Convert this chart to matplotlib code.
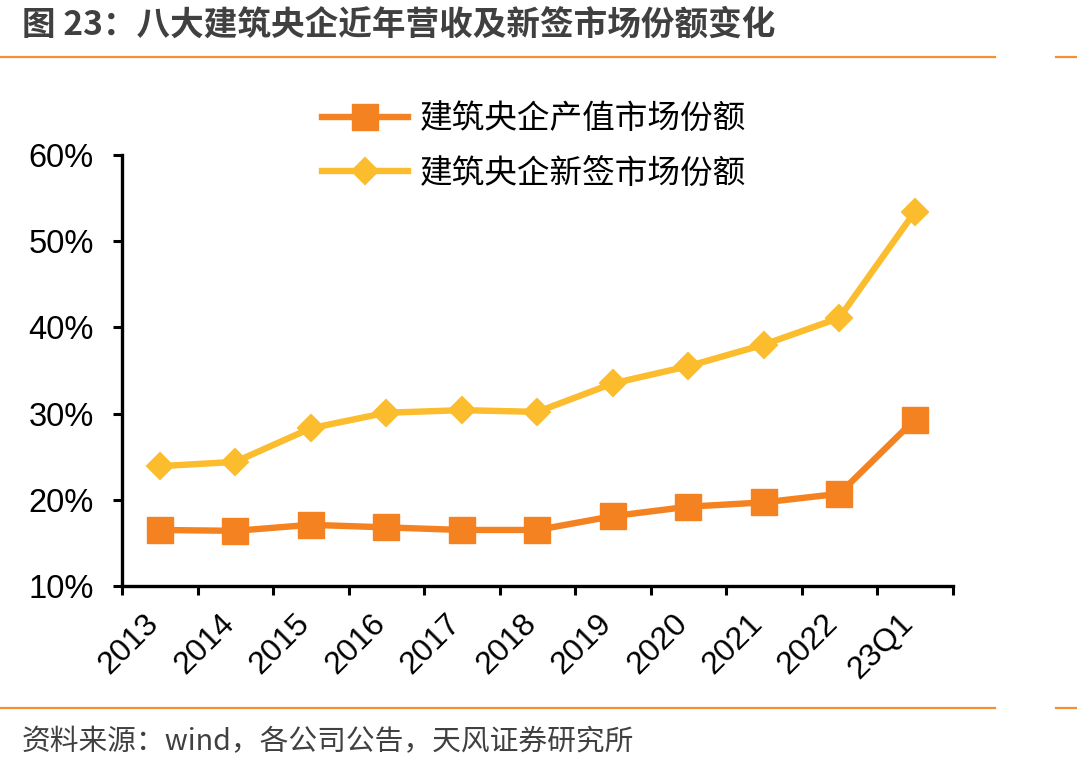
import matplotlib
matplotlib.use("Agg")
import matplotlib.pyplot as plt
from matplotlib.lines import Line2D
import matplotlib.transforms as mtransforms

categories = ["2013", "2014", "2015", "2016", "2017", "2018", "2019", "2020", "2021", "2022", "23Q1"]
output_share = [16.5, 16.4, 17.1, 16.8, 16.5, 16.5, 18.1, 19.2, 19.7, 20.7, 29.3]
newsign_share = [23.9, 24.4, 28.3, 30.1, 30.4, 30.2, 33.5, 35.5, 38.0, 41.1, 53.4]
series_names = ["建筑央企产值市场份额", "建筑央企新签市场份额"]
yticks = [10, 20, 30, 40, 50, 60]

ORANGE = "#F58220"
YELLOW = "#FBBC2D"
RULE = "#F39034"
TXT = "#404040"
CJK = ["Noto Sans CJK SC", "DejaVu Sans"]
NUM = ["Liberation Sans", "DejaVu Sans"]

fig = plt.figure(figsize=(10.77, 7.71), dpi=100)
ax = fig.add_axes([122 / 1077, 1 - 586 / 771, (952.5 - 122) / 1077, (586 - 155) / 771])

x = list(range(len(categories)))
ax.plot(x, output_share, color=ORANGE, lw=4.6, marker="s", ms=18.5,
        mfc=ORANGE, mec=ORANGE, mew=1, solid_joinstyle="round", zorder=3)
ax.plot(x, newsign_share, color=YELLOW, lw=4.6, marker="D", ms=13.5,
        mfc=YELLOW, mec=YELLOW, mew=1.5, solid_joinstyle="round", zorder=3)

ax.set_xlim(-0.5, len(categories) - 0.5)
ax.set_ylim(10, 60)
ax.set_yticks(yticks)
ax.set_yticklabels([f"{v}%" for v in yticks], fontfamily=NUM, fontsize=23.5)
ax.set_xticks(x)
ax.set_xticklabels(categories, fontfamily=NUM, fontsize=23, rotation=45, ha="right")
ax.set_xticks([i - 0.5 for i in range(len(categories) + 1)], minor=True)
ax.tick_params(axis="x", which="major", length=0, pad=16)
ax.tick_params(axis="x", which="minor", length=6.5, width=2.2, color="black")
ax.tick_params(axis="y", which="major", length=6.5, width=2.2, pad=14, color="black")
offset = mtransforms.ScaledTranslation(5 / 100, 0, fig.dpi_scale_trans)
for lab in ax.get_xticklabels():
    lab.set_transform(lab.get_transform() + offset)

for s in ["top", "right"]:
    ax.spines[s].set_visible(False)
for s in ["left", "bottom"]:
    ax.spines[s].set_linewidth(2.4)
    ax.spines[s].set_color("black")

handles = [
    Line2D([], [], color=ORANGE, lw=4.6, marker="s", ms=18.5, mfc=ORANGE, mec=ORANGE),
    Line2D([], [], color=YELLOW, lw=4.6, marker="D", ms=13.5, mfc=YELLOW, mec=YELLOW, mew=1.5),
]
fig.legend(handles, series_names, loc="upper left", bbox_to_anchor=(322 / 1077, 1 - 103 / 771),
           frameon=False, prop={"family": CJK, "size": 23.5}, handlelength=2.65,
           handletextpad=0.35, labelspacing=0.7, borderpad=0, borderaxespad=0)

fig.text(22 / 1077, 1 - 25 / 771, "图 23：八大建筑央企近年营收及新签市场份额变化",
         fontfamily=CJK, fontsize=24.2, fontweight="bold", color=TXT, va="center", ha="left")
fig.text(22 / 1077, 1 - 742 / 771, "资料来源：wind，各公司公告，天风证券研究所",
         fontfamily=CJK, fontsize=20.7, color=TXT, va="center", ha="left")

for yy in [57, 708]:
    fig.add_artist(Line2D([0, 995 / 1077], [1 - yy / 771] * 2, color=RULE, lw=1.6,
                          transform=fig.transFigure))
    fig.add_artist(Line2D([1056 / 1077, 1], [1 - yy / 771] * 2, color=RULE, lw=1.6,
                          transform=fig.transFigure))

fig.savefig("out.png", dpi=100)
